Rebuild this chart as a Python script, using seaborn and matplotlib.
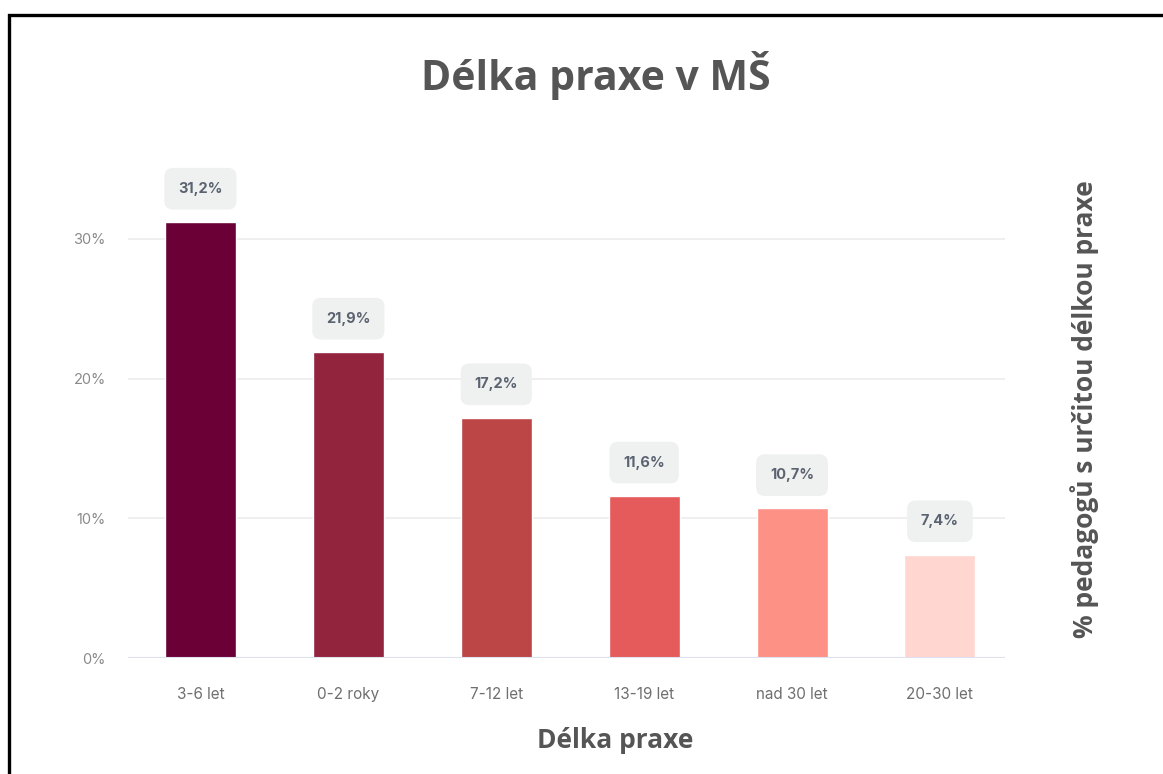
import numpy as np
import seaborn as sns
import matplotlib.pyplot as plt
from matplotlib.patches import Rectangle

# Data
kategorie = ['3-6 let', '0-2 roky', '7-12 let', '13-19 let', 'nad 30 let', '20-30 let']
hodnoty = [31.2, 21.9, 17.2, 11.6, 10.7, 7.4]
popisky = ['31,2%', '21,9%', '17,2%', '11,6%', '10,7%', '7,4%']
barvy = ['#6b0036', '#92243e', '#bc4646', '#e55a5a', '#fd9186', '#ffd6d0']
y_ticks = [0, 10, 20, 30]
y_tick_labels = ['0%', '10%', '20%', '30%']

sns.set_style('white')
plt.rcParams['font.family'] = ['Inter', 'DejaVu Sans']

fig = plt.figure(figsize=(11.63, 7.74), dpi=100)
ax = fig.add_axes([128 / 1163, 1 - 658 / 774, 877 / 1163, (658 - 155) / 774])

sns.barplot(x=kategorie, y=hodnoty, hue=kategorie, palette=barvy,
            width=0.48, saturation=1, legend=False, ax=ax, zorder=3)

ax.set_ylim(0, 36)
ax.set_xlim(-0.49, 5.44)
ax.set_yticks(y_ticks)
ax.set_yticklabels(y_tick_labels, color='#8a8a8a', fontsize=10.5)
ax.tick_params(axis='x', labelsize=11, length=0, pad=21)
ax.tick_params(axis='y', length=0, pad=16)
for lab in ax.get_xticklabels():
    lab.set_color('#6f6f6f')

# Mřížka
for t in y_ticks[1:]:
    ax.axhline(t, color='#ececec', lw=1.2, zorder=1)
ax.axhline(0, color='#e0e1ee', lw=1.5, zorder=4)
sns.despine(ax=ax, left=True, bottom=True)

# Popisky nad sloupci
for i, (v, txt) in enumerate(zip(hodnoty, popisky)):
    ax.annotate(txt, xy=(i, v), xytext=(0, 24), textcoords='offset points',
                ha='center', va='center', fontsize=10.5, fontweight='bold',
                color='#5b6370',
                bbox=dict(boxstyle='round,pad=0.95,rounding_size=0.6',
                          fc='#eff1f1', ec='none'))

ax.set_xlabel('')
ax.set_ylabel('')

fig.text(615 / 1163, 1 - 740 / 774, 'Délka praxe', ha='center', va='center',
         fontsize=19, fontweight='bold', color='#555555',
         family=['Open Sans', 'DejaVu Sans'])

fig.text(1085 / 1163, 1 - 409 / 774, '% pedagogů s určitou délkou praxe',
         rotation=90, ha='center', va='center', fontsize=19, fontweight='bold',
         color='#555555', family=['Open Sans', 'DejaVu Sans'])

fig.text(596 / 1163, 1 - 75 / 774, 'Délka praxe v MŠ', ha='center', va='center',
         fontsize=29.5, fontweight='bold', color='#555555',
         family=['Open Sans', 'DejaVu Sans'])

# Rámeček
fig.patches.append(Rectangle((9 / 1163, -0.1), 2, 1 - 15 / 774 + 0.1,
                             transform=fig.transFigure, fill=False,
                             ec='black', lw=2.4, zorder=10))

fig.savefig('out.png', dpi=100)
